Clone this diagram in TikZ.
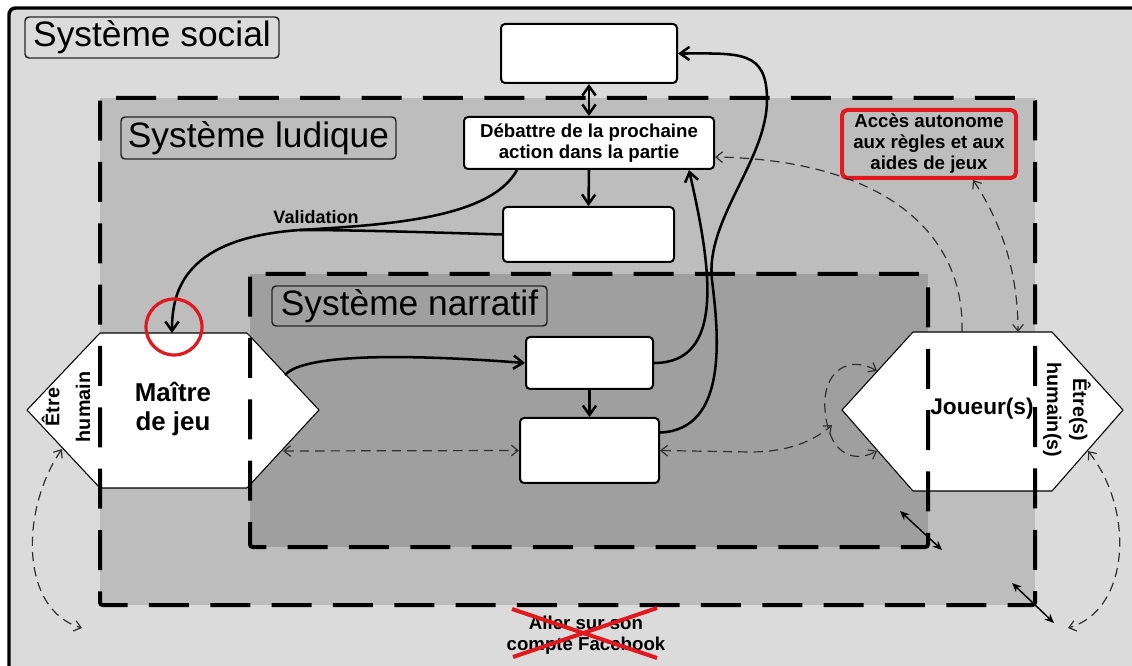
\documentclass[tikz,border=0pt]{standalone}
\usepackage{fontspec}
\setmainfont{Liberation Sans}
\usetikzlibrary{arrows.meta}
\newlength\pu \setlength\pu{0.75pt}
\definecolor{socialgray}{HTML}{DCDBDB}
\definecolor{ludgray}{HTML}{BEBDBD}
\definecolor{nargray}{HTML}{A09FA0}
\definecolor{redmark}{HTML}{E0191E}
\definecolor{dashgray}{HTML}{303030}
\begin{document}
\begin{tikzpicture}[x=0.75pt,y=-0.75pt,
 frame/.style={line width=3pt, dash pattern=on 30pt off 16pt, rounded corners=2pt},
 titlebox/.style={draw=black!85, line width=1.1pt, rounded corners=3pt, inner sep=0pt, font=\fontsize{26.5}{30}\selectfont},
 whitebox/.style={draw, fill=white, line width=1.5pt, rounded corners=3pt, inner sep=0pt, font=\bfseries\fontsize{14}{15.8}\selectfont, align=center},
 boldtext/.style={font=\bfseries\fontsize{14}{15.8}\selectfont, align=center, inner sep=0pt},
 hexa/.style={fill=white, draw, line width=0.8pt, line join=round},
 flow/.style={line width=1.9pt, -{Straight Barb[length=7pt,width=10pt]}},
 flowboth/.style={line width=1.9pt, {Straight Barb[length=7pt,width=10pt]}-{Straight Barb[length=7pt,width=10pt]}},
 flowplain/.style={line width=1.9pt},
 link/.style={draw=dashgray, line width=0.9pt, dash pattern=on 7pt off 4.5pt},
 linkhead/.style={link, -{Straight Barb[length=5pt,width=8pt]}},
 linkboth/.style={link, {Straight Barb[length=5pt,width=8pt]}-{Straight Barb[length=5pt,width=8pt]}},
 corner/.style={line width=1.1pt, {Stealth[length=7pt,width=6pt]}-{Stealth[length=7pt,width=6pt]}},
 redline/.style={draw=redmark, line width=3pt},
]
\useasboundingbox (0,0) rectangle (1132,666);
\clip (0,0) rectangle (1132,666);
\fill[white] (0,0) rectangle (1132,666);
% backgrounds
\fill[socialgray] (9,8) rectangle (1132,666);
\draw[line width=2.6pt, rounded corners=5pt] (9,680) |- (1150,8);
\fill[ludgray] (100,98) rectangle (1035,605);
\fill[nargray] (250,274) rectangle (928,547);
% hexagons
\draw[hexa] (27,410) -- (100,333) -- (247,333) -- (319,410) -- (247,488) -- (100,488) -- cycle;
\draw[hexa] (842,410) -- (913,332) -- (1052,332) -- (1123,410) -- (1052,491) -- (913,491) -- cycle;
% frames
\draw[frame] (100,98) rectangle (1035,605);
\draw[frame] (250,274) rectangle (928,547);
% titles
\node[titlebox, minimum width=254\pu, minimum height=41\pu] (tsoc) at (152,37.5) {Système social};
\node[titlebox, minimum width=275\pu, minimum height=42\pu] (tlud) at (258.5,138) {Système ludique};
\node[titlebox, minimum width=275\pu, minimum height=40\pu] (tnar) at (409.5,306) {Système narratif};
% boxes
\node[whitebox, minimum width=176\pu, minimum height=59\pu] (top) at (589,53.5) {};
\node[whitebox, minimum width=250\pu, minimum height=52\pu] (deb) at (589,143) {Débattre de la prochaine\\action dans la partie};
\node[whitebox, minimum width=171\pu, minimum height=55\pu] (box2) at (588.5,234.5) {};
\node[whitebox, minimum width=127\pu, minimum height=52\pu] (boxA) at (589.5,363) {};
\node[whitebox, minimum width=139\pu, minimum height=65\pu] (boxB) at (589.5,450.5) {};
\node[draw=redmark, line width=3pt, rounded corners=4pt, inner sep=0pt, minimum width=174\pu, minimum height=68\pu, boldtext] (acc) at (929,144) {Accès autonome\\aux règles et aux\\aides de jeux};
% hexagon texts
\node[font=\bfseries\fontsize{19.4}{22}\selectfont, align=center, inner sep=0pt] (mj) at (173,409) {Maître\\de jeu};
\node[font=\bfseries\fontsize{14.8}{23}\selectfont, align=center, inner sep=0pt, rotate=90] (eh) at (66,407) {Être\\humain};
\node[font=\bfseries\fontsize{17}{20}\selectfont, inner sep=0pt] (jo) at (982,409) {Joueur(s)};
\node[font=\bfseries\fontsize{14.8}{19.5}\selectfont, align=center, inner sep=0pt, rotate=-90] (ehs) at (1067,410) {Être(s)\\humain(s)};
% coordinates
\coordinate (mjUR) at (285,375);
\coordinate (mjLR) at (283,451);
\coordinate (mjLL) at (62,449);
\coordinate (mjTop) at (172,333);
\coordinate (joUL) at (877,371);
\coordinate (joLL) at (877,451);
\coordinate (joLR) at (1088,451);
\coordinate (joTopA) at (962,332);
\coordinate (joTopB) at (1018,332);
\coordinate (joV) at (832,425);
\coordinate (leftEnd) at (82,628);
\coordinate (rightEnd) at (1068,628);
\coordinate (valP) at (300,230);
% solid connectors
\draw[flowboth] (top.south) -- (deb.north);
\draw[flow] (deb.south) -- (box2.north);
\draw[flow] (boxA.south) -- (boxB.north);
\draw[flow] (mjUR) .. controls (305,352) and (420,355) .. (boxA.west);
\draw[flowplain] ([xshift=54\pu]deb.south west) .. controls (490,220) and (380,225) .. (valP);
\draw[flowplain] (box2.west) .. controls (420,232) and (350,230) .. (valP);
\draw[flow] (valP) .. controls (185,238) and (172,290) .. (mjTop);
\draw[flow] (boxA.east) .. controls (725,363) and (712,270) .. ([xshift=-26\pu]deb.south east);
\draw[flow] ([yshift=18\pu]boxB.east) .. controls (730,430) and (718,330) .. (712,280) .. controls (705,220) and (767,160) .. (767,100) .. controls (767,50) and (740,53.5) .. (top.east);
% dashed connectors
\draw[linkboth] (mjLR) -- (boxB.west);
\draw[linkboth] (boxB.east) -- (750,452) .. controls (790,452) and (815,440) .. (joV);
\draw[linkboth] (joUL) .. controls (850,355) and (822,370) .. (825,410) .. controls (828,450) and (850,465) .. (joLL);
\draw[linkhead] (joTopA) .. controls (965,230) and (880,160) .. ([yshift=-14\pu]deb.east);
\draw[linkboth] ([xshift=44\pu]acc.south) .. controls (1000,220) and (1018,270) .. (joTopB);
\draw[linkboth] (mjLL) .. controls (20,510) and (20,610) .. (leftEnd);
\draw[linkboth] (joLR) .. controls (1135,510) and (1130,610) .. (rightEnd);
% corner arrows
\coordinate (cnA) at (900,511); \coordinate (cnB) at (942,550);
\coordinate (clA) at (1012,583); \coordinate (clB) at (1054,623);
\draw[corner] (cnA) -- (cnB);
\draw[corner] (clA) -- (clB);
% labels
\node[boldtext, font=\bfseries\fontsize{13.5}{15}\selectfont] (val) at (316,217) {Validation};
\node[boldtext, font=\bfseries\fontsize{14}{16}\selectfont] (fb) at (586,635) {Aller sur son\\compte Facebook};
% red marks
\draw[redline] (512,609) -- (657,658);
\draw[redline] (657,608) -- (513,657);
\node[draw=redmark, line width=2.4pt, circle, minimum size=56\pu, inner sep=0pt] (rc) at (174,327) {};
\end{tikzpicture}
\end{document}
